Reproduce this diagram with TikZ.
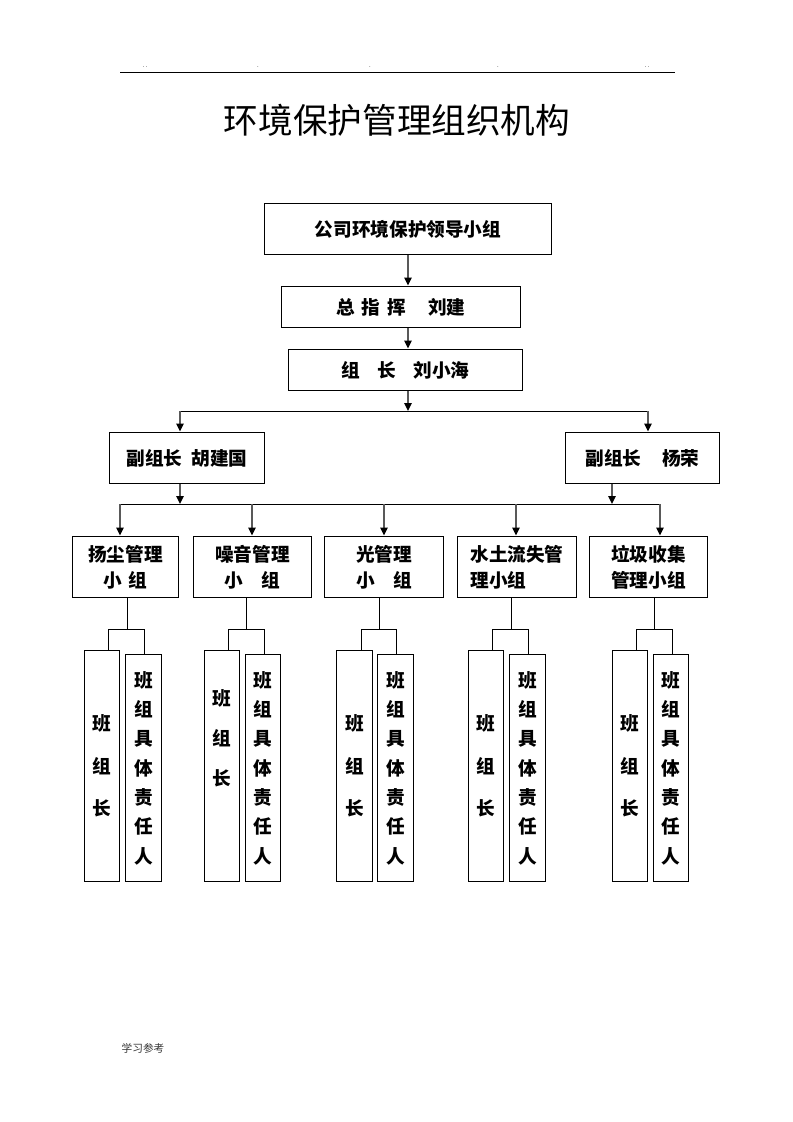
\documentclass[tikz,border=0pt]{standalone}
\usepackage{fontspec}
\usepackage{tikz}
\usetikzlibrary{arrows.meta}
\newfontfamily\cjk{Noto Sans CJK SC}

\tikzset{
	box/.style={draw=black, line width=0.75pt, rectangle, inner sep=0pt, align=center,
		font=\cjk\bfseries\fontsize{14}{19.5}\selectfont},
	tallbox/.style={draw=black, line width=0.75pt, rectangle, inner sep=0pt, align=center,
		minimum width=27pt, font=\cjk\bfseries\fontsize{14}{32}\selectfont},
	arr/.style={draw=black!65, line width=1.2pt, -{Triangle[width=5.5pt,length=6pt,color=black]}},
	link/.style={draw=black, line width=0.75pt}
}

\begin{document}
\begin{tikzpicture}[x=0.7507pt, y=-0.7507pt]
	\path[use as bounding box] (0,0) rectangle (793,1122);

	% header
	\coordinate (hl) at (120,72);
	\coordinate (hr) at (675,72);
	\draw [black, line width=0.75pt] (hl) -- (hr);
	\node [font=\fontsize{5}{5}\selectfont] (d1) at (145,67) {..};
	\node [font=\fontsize{5}{5}\selectfont] (d2) at (258,67) {.};
	\node [font=\fontsize{5}{5}\selectfont] (d3) at (370,67) {.};
	\node [font=\fontsize{5}{5}\selectfont] (d4) at (498,67) {.};
	\node [font=\fontsize{5}{5}\selectfont] (d5) at (647,67) {..};

	% title
	\node [font=\cjk\fontsize{26}{30}\selectfont] (title) at (397,120) {环境保护管理组织机构};

	% top boxes
	\node [box, minimum width=216pt, minimum height=39pt] (lead) at (408,229) {公司环境保护领导小组};
	\node [box, minimum width=180pt, minimum height=31.5pt] (chief) at (401,307)
		{总\hspace{0.35em}指\hspace{0.35em}挥\hspace{1.2em}刘建};
	\node [box, minimum width=176pt, minimum height=31.5pt] (leader) at (405.5,370)
		{组\hspace{0.9em}长\hspace{0.95em}刘小海};
	\draw [arr] (lead.south) -- (lead.south |- chief.north);
	\draw [arr] (chief.south -| lead.south) -- (leader.north -| lead.south);

	% deputies
	\coordinate (top) at (408,411);
	\coordinate (topL) at (180,411);
	\coordinate (topR) at (648,411);
	\node [box, minimum width=117pt, minimum height=39pt] (depL) at (187,458) {副组长\hspace{0.5em}胡建国};
	\node [box, minimum width=116pt, minimum height=39pt] (depR) at (642.5,458) {副组长\hspace{1.1em}杨荣};
	\draw [arr] (leader.south -| top) -- (top);
	\draw [link] (topL) -- (topR);
	\draw [arr] (topL) -- (depL.north -| topL);
	\draw [arr] (topR) -- (depR.north -| topR);

	% bar to groups
	\coordinate (a1) at (120,504);
	\coordinate (a2) at (252,504);
	\coordinate (a3) at (384,504);
	\coordinate (a4) at (516,504);
	\coordinate (a5) at (660,504);
	\coordinate (dR) at (612,504);
	\draw [link] (a1) -- (a5);
	\draw [arr] (depL.south -| topL) -- (topL |- a1);
	\draw [arr] (depR.south -| dR) -- (dR);

	% groups
	\node [box, minimum width=79pt, minimum height=46.5pt] (g1) at (125.5,567) {扬尘管理\\小\hspace{0.35em}组};
	\node [box, minimum width=89pt, minimum height=46.5pt] (g2) at (252.5,567) {噪音管理\\小\hspace{1em}组};
	\node [box, minimum width=90pt, minimum height=46.5pt] (g3) at (384,567) {光管理\\小\hspace{1em}组};
	\node [box, minimum width=90pt, minimum height=46.5pt, align=left] (g4) at (517,567) {水土流失管\\理小组};
	\node [box, minimum width=89pt, minimum height=46.5pt] (g5) at (648.5,567) {垃圾收集\\管理小组};
	\draw [arr] (a1) -- (a1 |- g1.north);
	\draw [arr] (a2) -- (a2 |- g2.north);
	\draw [arr] (a3) -- (a3 |- g3.north);
	\draw [arr] (a4) -- (a4 |- g4.north);
	\draw [arr] (a5) -- (a5 |- g5.north);

	% team boxes
	\node [tallbox, minimum height=174pt] (s1L) at (102,766) {班\\组\\长};
	\node [tallbox, minimum height=171pt, font=\cjk\bfseries\fontsize{14}{22}\selectfont] (s1R) at (143.5,768) {班\\组\\具\\体\\责\\任\\人};
	\node [tallbox, minimum height=174pt] (s2L) at (222,766) {};
	\node [font=\cjk\bfseries\fontsize{14}{30}\selectfont, align=center] (t2L) at (222,738) {班\\组\\长};
	\node [tallbox, minimum height=171pt, font=\cjk\bfseries\fontsize{14}{22}\selectfont] (s2R) at (263,768) {班\\组\\具\\体\\责\\任\\人};
	\node [tallbox, minimum height=174pt] (s3L) at (354.5,766) {班\\组\\长};
	\node [tallbox, minimum height=171pt, font=\cjk\bfseries\fontsize{14}{22}\selectfont] (s3R) at (395.5,768) {班\\组\\具\\体\\责\\任\\人};
	\node [tallbox, minimum height=174pt] (s4L) at (486,766) {班\\组\\长};
	\node [tallbox, minimum height=171pt, font=\cjk\bfseries\fontsize{14}{22}\selectfont] (s4R) at (527.5,768) {班\\组\\具\\体\\责\\任\\人};
	\node [tallbox, minimum height=174pt] (s5L) at (630,766) {班\\组\\长};
	\node [tallbox, minimum height=171pt, font=\cjk\bfseries\fontsize{14}{22}\selectfont] (s5R) at (671,768) {班\\组\\具\\体\\责\\任\\人};

	% branches
	\coordinate (j1) at (127,629);
	\coordinate (k1) at (108,629);
	\coordinate (m1) at (144,629);
	\draw [link] (j1 |- g1.south) -- (j1);
	\draw [link] (k1 |- s1L.north) -- (k1) -- (m1) -- (m1 |- s1R.north);

	\coordinate (j2) at (246,629);
	\coordinate (k2) at (228,629);
	\coordinate (m2) at (264,629);
	\draw [link] (j2 |- g2.south) -- (j2);
	\draw [link] (k2 |- s2L.north) -- (k2) -- (m2) -- (m2 |- s2R.north);

	\coordinate (j3) at (379,629);
	\coordinate (k3) at (361,629);
	\coordinate (m3) at (396,629);
	\draw [link] (j3 |- g3.south) -- (j3);
	\draw [link] (k3 |- s3L.north) -- (k3) -- (m3) -- (m3 |- s3R.north);

	\coordinate (j4) at (511,629);
	\coordinate (k4) at (492,629);
	\coordinate (m4) at (528,629);
	\draw [link] (j4 |- g4.south) -- (j4);
	\draw [link] (k4 |- s4L.north) -- (k4) -- (m4) -- (m4 |- s4R.north);

	\coordinate (j5) at (654,629);
	\coordinate (k5) at (636,629);
	\coordinate (m5) at (672,629);
	\draw [link] (j5 |- g5.south) -- (j5);
	\draw [link] (k5 |- s5L.north) -- (k5) -- (m5) -- (m5 |- s5R.north);

	% footer
	\node [font=\cjk\fontsize{8}{10}\selectfont, text=black!80] (foot) at (143,1048) {学习参考};
\end{tikzpicture}
\end{document}
